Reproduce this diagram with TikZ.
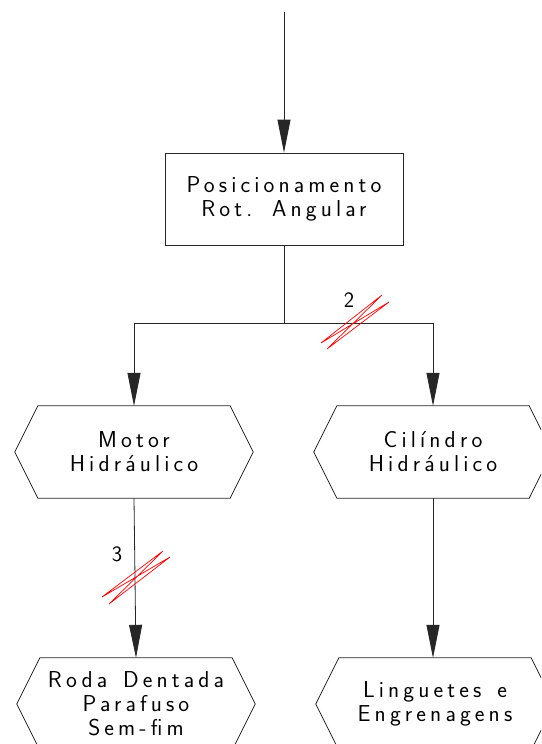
\documentclass[tikz,border=0pt]{standalone}
\usepackage{fontspec}
\setmainfont{Latin Modern Sans}[LetterSpace=18, WordSpace=1.4]
\usetikzlibrary{arrows.meta}
\begin{document}
\begin{tikzpicture}[x=1pt,y=-1pt,
  wire/.style={line width=0.8pt, draw=black!85},
  flow/.style={wire, -{Triangle[length=33pt,width=13pt]}},
  txt/.style={font=\fontsize{23}{24}\selectfont, align=center},
  blockbox/.style={draw=black!85, line width=0.8pt, minimum width=238pt, minimum height=92pt, inner sep=0pt, txt},
  hexblock/.style={minimum width=238pt, minimum height=92pt, inner sep=0pt, txt},
  tick/.style={red, line width=0.7pt},
  count/.style={font=\fontsize{22}{22}\selectfont, inner sep=0pt}]
  \clip (0,0) rectangle (541,744);
  \useasboundingbox (0,0) rectangle (541,744);

  % blocks
  \node[blockbox] (pos) at (284,199) {Posicionamento\\Rot. Angular};
  \node[hexblock] (motor) at (134,452) {Motor\\Hidráulico};
  \node[hexblock] (cil)   at (433,452) {Cilíndro\\Hidráulico};
  \node[hexblock] (roda)  at (136,704) {Roda Dentada\\Parafuso\\Sem-fim};
  \node[hexblock] (ling)  at (435,704) {Linguetes e\\Engrenagens};

  % hexagonal outlines
  \foreach \n in {motor,cil,roda,ling}
    \draw[wire] ([xshift=23pt]\n.north west) -- ([xshift=-23pt]\n.north east) -- (\n.east)
      -- ([xshift=-23pt]\n.south east) -- ([xshift=23pt]\n.south west) -- (\n.west) -- cycle;

  % connectors
  \coordinate (in) at (284,12);
  \coordinate (j) at (284,323);
  \coordinate (jl) at (motor.north |- j);
  \coordinate (jr) at (cil.north |- j);
  \draw[flow] (in) -- (pos.north);
  \draw[wire] (pos.south) -- (j);
  \draw[wire] (jl) -- (jr);
  \draw[flow] (jl) -- (motor.north);
  \draw[flow] (jr) -- (cil.north);
  \draw[flow] (motor.south) -- (roda.north);
  \draw[flow] (cil.south) -- (cil.south |- roda.north);

  % multiplicity marks
  \node[count] (n2) at (349,300) {2};
  \draw[tick] (321,343) -- (382,295) (327,349) -- (389,302)
              (321,343) -- (389,302) (327,349) -- (382,295);
  \node[count] (n3) at (117,554) {3};
  \draw[tick] (102,597) -- (163,551) (109,604) -- (170,557)
              (102,597) -- (170,557) (109,604) -- (163,551);
\end{tikzpicture}
\end{document}
